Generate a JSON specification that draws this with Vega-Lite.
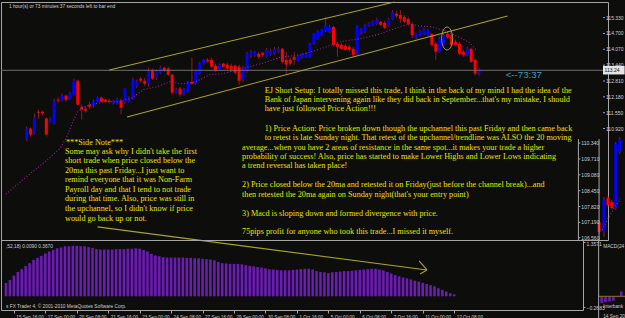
{
  "$schema": "https://vega.github.io/schema/vega-lite/v6.json",
  "background": "#0d0d0b",
  "padding": 0,
  "bounds": "flush",
  "spacing": 0,
  "config": {
    "view": {"stroke": "#a6a6a6", "strokeWidth": 1},
    "axis": {"grid": false, "domain": false, "labelFont": "Liberation Sans", "labelColor": "#cfcfcf", "tickColor": "#a6a6a6", "labelOverlap": false}
  },
  "datasets": {
    "candles": [
      {"t":0,"o":110.49,"h":111.00,"l":110.41,"c":110.92},
      {"t":1,"o":110.92,"h":110.96,"l":110.60,"c":110.68},
      {"t":2,"o":110.72,"h":111.52,"l":110.68,"c":111.36},
      {"t":3,"o":111.59,"h":111.67,"l":111.32,"c":111.55},
      {"t":4,"o":111.59,"h":111.63,"l":111.44,"c":111.52},
      {"t":5,"o":111.32,"h":111.36,"l":110.64,"c":110.68},
      {"t":6,"o":111.20,"h":111.36,"l":111.16,"c":111.32},
      {"t":7,"o":111.12,"h":112.11,"l":111.08,"c":112.03},
      {"t":8,"o":112.07,"h":112.15,"l":111.95,"c":112.03},
      {"t":9,"o":112.03,"h":112.31,"l":111.99,"c":112.23},
      {"t":10,"o":112.23,"h":112.27,"l":111.99,"c":112.07},
      {"t":11,"o":112.11,"h":112.39,"l":112.07,"c":112.35},
      {"t":12,"o":112.27,"h":112.90,"l":112.23,"c":112.82},
      {"t":13,"o":112.82,"h":112.86,"l":111.83,"c":111.87},
      {"t":14,"o":111.79,"h":111.87,"l":111.28,"c":111.67},
      {"t":15,"o":111.71,"h":111.79,"l":111.55,"c":111.63},
      {"t":16,"o":111.87,"h":111.99,"l":111.71,"c":111.79},
      {"t":17,"o":111.83,"h":112.07,"l":111.75,"c":111.99},
      {"t":18,"o":111.99,"h":112.19,"l":111.95,"c":112.15},
      {"t":19,"o":112.15,"h":112.19,"l":111.95,"c":111.99},
      {"t":20,"o":112.07,"h":112.11,"l":111.95,"c":111.99},
      {"t":21,"o":112.03,"h":112.11,"l":111.91,"c":111.99},
      {"t":22,"o":111.95,"h":112.07,"l":111.87,"c":112.03},
      {"t":23,"o":111.91,"h":112.15,"l":111.87,"c":112.07},
      {"t":24,"o":112.03,"h":112.11,"l":111.48,"c":111.75},
      {"t":25,"o":111.99,"h":112.54,"l":111.91,"c":112.51},
      {"t":26,"o":111.99,"h":112.19,"l":111.95,"c":112.11},
      {"t":27,"o":112.11,"h":112.94,"l":112.07,"c":112.86},
      {"t":28,"o":112.62,"h":112.86,"l":112.54,"c":112.78},
      {"t":29,"o":112.90,"h":112.98,"l":112.74,"c":112.82},
      {"t":30,"o":112.82,"h":112.94,"l":112.62,"c":112.70},
      {"t":31,"o":112.70,"h":113.34,"l":112.58,"c":113.22},
      {"t":32,"o":113.22,"h":113.30,"l":112.86,"c":112.90},
      {"t":33,"o":112.94,"h":113.26,"l":112.86,"c":113.22},
      {"t":34,"o":113.14,"h":113.42,"l":113.10,"c":113.34},
      {"t":35,"o":113.34,"h":113.38,"l":113.18,"c":113.22},
      {"t":36,"o":113.30,"h":113.38,"l":113.02,"c":113.06},
      {"t":37,"o":113.06,"h":113.10,"l":112.27,"c":112.35},
      {"t":38,"o":112.35,"h":112.54,"l":112.31,"c":112.47},
      {"t":39,"o":112.51,"h":112.58,"l":112.19,"c":112.27},
      {"t":40,"o":112.31,"h":112.54,"l":112.23,"c":112.51},
      {"t":41,"o":112.39,"h":112.82,"l":112.35,"c":112.78},
      {"t":42,"o":112.78,"h":113.73,"l":112.66,"c":112.70},
      {"t":43,"o":112.70,"h":113.22,"l":112.66,"c":113.18},
      {"t":44,"o":113.10,"h":113.57,"l":113.06,"c":113.53},
      {"t":45,"o":113.50,"h":113.69,"l":113.46,"c":113.65},
      {"t":46,"o":113.65,"h":113.73,"l":113.53,"c":113.61},
      {"t":47,"o":113.65,"h":113.73,"l":113.34,"c":113.38},
      {"t":48,"o":113.42,"h":113.50,"l":113.18,"c":113.22},
      {"t":49,"o":113.30,"h":113.50,"l":113.26,"c":113.46},
      {"t":50,"o":113.50,"h":113.53,"l":113.34,"c":113.38},
      {"t":51,"o":113.46,"h":113.53,"l":113.26,"c":113.30},
      {"t":52,"o":113.42,"h":113.50,"l":113.18,"c":113.26},
      {"t":53,"o":113.42,"h":113.46,"l":113.06,"c":113.14},
      {"t":54,"o":113.38,"h":113.46,"l":112.66,"c":112.82},
      {"t":55,"o":112.86,"h":113.42,"l":112.78,"c":113.34},
      {"t":56,"o":113.18,"h":113.97,"l":113.14,"c":113.89},
      {"t":57,"o":113.81,"h":114.05,"l":113.73,"c":113.97},
      {"t":58,"o":113.85,"h":114.01,"l":113.77,"c":113.97},
      {"t":59,"o":113.89,"h":113.97,"l":113.69,"c":113.77},
      {"t":60,"o":113.93,"h":113.97,"l":113.77,"c":113.85},
      {"t":61,"o":113.77,"h":114.13,"l":113.73,"c":114.05},
      {"t":62,"o":113.85,"h":114.09,"l":113.81,"c":114.01},
      {"t":63,"o":113.89,"h":114.17,"l":113.85,"c":114.09},
      {"t":64,"o":113.97,"h":114.17,"l":113.93,"c":114.09},
      {"t":65,"o":114.09,"h":114.13,"l":113.50,"c":113.57},
      {"t":66,"o":113.65,"h":113.97,"l":113.10,"c":113.46},
      {"t":67,"o":113.65,"h":113.73,"l":113.42,"c":113.50},
      {"t":68,"o":113.77,"h":113.97,"l":113.46,"c":113.65},
      {"t":69,"o":113.61,"h":113.85,"l":113.57,"c":113.81},
      {"t":70,"o":113.77,"h":113.93,"l":113.69,"c":113.89},
      {"t":71,"o":113.77,"h":113.97,"l":113.73,"c":113.89},
      {"t":72,"o":113.77,"h":114.33,"l":113.73,"c":114.29},
      {"t":73,"o":114.29,"h":114.72,"l":114.25,"c":114.68},
      {"t":74,"o":114.49,"h":114.84,"l":114.45,"c":114.80},
      {"t":75,"o":114.64,"h":114.88,"l":114.60,"c":114.84},
      {"t":76,"o":114.80,"h":115.36,"l":114.76,"c":115.00},
      {"t":77,"o":114.76,"h":115.04,"l":114.72,"c":114.96},
      {"t":78,"o":114.96,"h":115.00,"l":114.17,"c":114.25},
      {"t":79,"o":114.29,"h":114.37,"l":113.77,"c":114.17},
      {"t":80,"o":114.25,"h":114.33,"l":114.05,"c":114.09},
      {"t":81,"o":114.21,"h":114.29,"l":114.01,"c":114.05},
      {"t":82,"o":114.17,"h":114.25,"l":113.97,"c":114.05},
      {"t":83,"o":114.09,"h":114.17,"l":113.77,"c":113.85},
      {"t":84,"o":113.89,"h":115.04,"l":113.85,"c":115.00},
      {"t":85,"o":114.68,"h":114.92,"l":114.64,"c":114.88},
      {"t":86,"o":114.76,"h":115.08,"l":114.72,"c":115.04},
      {"t":87,"o":115.00,"h":115.16,"l":114.96,"c":115.12},
      {"t":88,"o":115.04,"h":115.24,"l":115.00,"c":115.20},
      {"t":89,"o":115.08,"h":115.32,"l":115.04,"c":115.24},
      {"t":90,"o":115.16,"h":115.20,"l":115.00,"c":115.04},
      {"t":91,"o":115.12,"h":115.20,"l":114.88,"c":114.92},
      {"t":92,"o":115.00,"h":115.32,"l":114.96,"c":115.28},
      {"t":93,"o":115.28,"h":115.63,"l":115.24,"c":115.55},
      {"t":94,"o":115.48,"h":115.59,"l":115.32,"c":115.40},
      {"t":95,"o":115.44,"h":115.63,"l":115.12,"c":115.28},
      {"t":96,"o":115.36,"h":115.44,"l":115.12,"c":115.16},
      {"t":97,"o":115.28,"h":115.36,"l":115.00,"c":115.08},
      {"t":98,"o":115.08,"h":115.16,"l":114.52,"c":114.64},
      {"t":99,"o":114.56,"h":114.72,"l":114.48,"c":114.68},
      {"t":100,"o":114.64,"h":114.84,"l":114.60,"c":114.80},
      {"t":101,"o":114.68,"h":114.92,"l":114.64,"c":114.88},
      {"t":102,"o":114.64,"h":114.88,"l":114.60,"c":114.84},
      {"t":103,"o":114.68,"h":114.72,"l":114.17,"c":114.25},
      {"t":104,"o":114.29,"h":114.37,"l":113.65,"c":113.97},
      {"t":105,"o":113.97,"h":114.56,"l":113.93,"c":114.49},
      {"t":106,"o":114.25,"h":114.72,"l":114.21,"c":114.64},
      {"t":107,"o":114.68,"h":114.76,"l":114.49,"c":114.56},
      {"t":108,"o":114.64,"h":114.68,"l":114.17,"c":114.25},
      {"t":109,"o":114.37,"h":114.45,"l":114.21,"c":114.25},
      {"t":110,"o":114.29,"h":114.37,"l":113.85,"c":113.89},
      {"t":111,"o":113.97,"h":114.05,"l":113.77,"c":113.85},
      {"t":112,"o":113.85,"h":114.17,"l":113.81,"c":114.09},
      {"t":113,"o":114.09,"h":114.13,"l":113.53,"c":113.57},
      {"t":114,"o":113.65,"h":113.69,"l":113.02,"c":113.10},
      {"t":115,"o":113.10,"h":113.34,"l":113.02,"c":113.26}
    ],
    "mini": [
      {"t":145.5,"o":107.20,"h":107.28,"l":106.73,"c":106.81},
      {"t":146.75,"o":106.81,"h":108.20,"l":106.61,"c":108.08},
      {"t":147.75,"o":108.16,"h":108.24,"l":107.80,"c":107.88},
      {"t":148.75,"o":108.00,"h":108.08,"l":107.68,"c":107.76},
      {"t":149.75,"o":107.76,"h":110.39,"l":107.68,"c":110.31},
      {"t":150.75,"o":109.99,"h":110.58,"l":109.91,"c":110.50}
    ],
    "ma": [
      {"t":-5.25,"p":108.31},{"t":-0.25,"p":108.98},{"t":4.75,"p":109.61},{"t":8.5,"p":110.13},
      {"t":10.25,"p":110.60},{"t":11.75,"p":111.20},{"t":13,"p":111.59},{"t":14.75,"p":111.79},
      {"t":16.5,"p":111.87},{"t":19.75,"p":111.99},{"t":23,"p":111.99},{"t":26.5,"p":112.11},
      {"t":29.75,"p":112.47},{"t":33,"p":112.58},{"t":36.5,"p":112.78},{"t":39.75,"p":112.70},
      {"t":43,"p":112.78},{"t":46.5,"p":113.06},{"t":49.75,"p":113.10},{"t":54.75,"p":113.30},
      {"t":59.75,"p":113.50},{"t":64.75,"p":113.77},{"t":69.75,"p":113.85},{"t":74.75,"p":114.09},
      {"t":79.75,"p":114.37},{"t":84.75,"p":114.49},{"t":89.75,"p":114.68},{"t":94.75,"p":114.96},
      {"t":97.25,"p":115.08},{"t":99.75,"p":115.00},{"t":103,"p":114.96},{"t":106.5,"p":114.80},
      {"t":109.75,"p":114.56},{"t":112.25,"p":114.37},{"t":114.25,"p":114.05}
    ],
    "minima": [
      {"t":146.25,"p":106.89},{"t":148.0,"p":107.40},{"t":149.5,"p":107.80},{"t":151.0,"p":108.13}
    ],
    "drawn": [
      {"t":21,"p":113.25,"t2":93.5,"p2":115.95},
      {"t":25.5,"p":111.38,"t2":122.25,"p2":115.39},
      {"t":18,"p":107.01,"t2":101.75,"p2":105.30},
      {"t":99.75,"p":105.66,"t2":101.75,"p2":105.30},
      {"t":100,"p":105.14,"t2":101.75,"p2":105.30}
    ],
    "priceLabels": [
      {"t":147.25,"tk":146.5,"tk2":147.0,"p":115.33,"s":"115.330"},
      {"t":147.25,"tk":146.5,"tk2":147.0,"p":114.70,"s":"114.700"},
      {"t":147.25,"tk":146.5,"tk2":147.0,"p":114.07,"s":"114.070"},
      {"t":147.25,"tk":146.5,"tk2":147.0,"p":113.44,"s":"113.440"},
      {"t":147.25,"tk":146.5,"tk2":147.0,"p":112.81,"s":"112.810"},
      {"t":147.25,"tk":146.5,"tk2":147.0,"p":112.18,"s":"112.180"},
      {"t":147.25,"tk":146.5,"tk2":147.0,"p":111.55,"s":"111.550"},
      {"t":147.25,"tk":146.5,"tk2":147.0,"p":110.92,"s":"110.920"},
      {"t":141.0,"tk":140.25,"tk2":140.75,"p":110.34,"s":"110.340"},
      {"t":141.0,"tk":140.25,"tk2":140.75,"p":109.71,"s":"109.710"},
      {"t":141.0,"tk":140.25,"tk2":140.75,"p":109.08,"s":"109.080"},
      {"t":141.0,"tk":140.25,"tk2":140.75,"p":108.45,"s":"108.450"},
      {"t":141.0,"tk":140.25,"tk2":140.75,"p":107.82,"s":"107.820"},
      {"t":141.0,"tk":140.25,"tk2":140.75,"p":107.19,"s":"107.190"},
      {"t":141.0,"tk":140.25,"tk2":140.75,"p":106.58,"s":"106.560"}
    ],
    "notes": [
      {"t":60.5,"p":112.41,"s":"EJ Short Setup:  I totally missed this trade, I think in the back of my mind I had the idea of the"},
      {"t":60.5,"p":112.04,"s":"Bank of Japan intervening again like they did back in September...that's my mistake, I should"},
      {"t":60.5,"p":111.69,"s":"have just followed Price Action!!!"},
      {"t":60.5,"p":110.91,"s":"1)  Price Action:  Price broken down though the upchannel this past Friday and then came back"},
      {"t":60.5,"p":110.54,"s":"to retest is late Sunday night.  That retest of the upchannel/trendline was ALSO the 20 moving"},
      {"t":54.75,"p":110.16,"s":"average...when you have 2 areas of resistance in the same spot...it makes your trade a higher"},
      {"t":54.75,"p":109.79,"s":"probability of success!  Also, price has started to make Lower Highs and Lower Lows indicating"},
      {"t":54.75,"p":109.42,"s":"a trend reversal has taken place!"},
      {"t":54.75,"p":108.69,"s":"2) Price closed below the 20ma and retested it on Friday(just before the channel break)...and"},
      {"t":54.75,"p":108.29,"s":"then retested the 20ma again on Sunday night(that's your entry point)"},
      {"t":54.75,"p":107.54,"s":"3) Macd is sloping down and formed divergence with price."},
      {"t":54.75,"p":106.81,"s":"75pips profit for anyone who took this trade...I missed it myself."},
      {"t":10,"p":110.35,"s":"***Side Note***"},
      {"t":9.75,"p":109.99,"s":"Some may ask why I didn't take the first"},
      {"t":9.75,"p":109.62,"s":"short trade when price closed below the"},
      {"t":9.75,"p":109.23,"s":"20ma this past Friday...I just want to"},
      {"t":9.75,"p":108.86,"s":"remind everyone that it was Non-Farm"},
      {"t":9.75,"p":108.48,"s":"Payroll day and that I tend to not trade"},
      {"t":9.75,"p":108.11,"s":"during that time.  Also, price was still in"},
      {"t":9.75,"p":107.72,"s":"the upchannel, so I didn't know if price"},
      {"t":9.75,"p":107.34,"s":"would go back up or not."}
    ],
    "macd": [
      {"u":-2,"v":0.33},{"u":-1,"v":0.41},{"u":0,"v":0.52},{"u":1,"v":0.61},{"u":2,"v":0.68},
      {"u":3,"v":0.76},{"u":4,"v":0.83},{"u":5,"v":0.91},{"u":6,"v":0.96},{"u":7,"v":1.01},
      {"u":8,"v":1.07},{"u":9,"v":1.12},{"u":10,"v":1.16},{"u":11,"v":1.20},{"u":12,"v":1.22},
      {"u":13,"v":1.25},{"u":14,"v":1.25},{"u":15,"v":1.26},{"u":16,"v":1.26},{"u":17,"v":1.25},
      {"u":18,"v":1.25},{"u":19,"v":1.23},{"u":20,"v":1.21},{"u":21,"v":1.18},{"u":22,"v":1.17},
      {"u":23,"v":1.17},{"u":24,"v":1.17},{"u":25,"v":1.17},{"u":26,"v":1.18},{"u":27,"v":1.18},
      {"u":28,"v":1.18},{"u":29,"v":1.19},{"u":30,"v":1.19},{"u":31,"v":1.20},{"u":32,"v":1.19},
      {"u":33,"v":1.16},{"u":34,"v":1.12},{"u":35,"v":1.06},{"u":36,"v":1.02},{"u":37,"v":1.00},
      {"u":38,"v":0.98},{"u":39,"v":0.97},{"u":40,"v":0.97},{"u":41,"v":0.97},{"u":42,"v":0.97},
      {"u":43,"v":0.97},{"u":44,"v":0.96},{"u":45,"v":0.96},{"u":46,"v":0.95},{"u":47,"v":0.95},
      {"u":48,"v":0.94},{"u":49,"v":0.93},{"u":50,"v":0.92},{"u":51,"v":0.90},{"u":52,"v":0.86},
      {"u":53,"v":0.83},{"u":54,"v":0.82},{"u":55,"v":0.81},{"u":56,"v":0.81},{"u":57,"v":0.81},
      {"u":58,"v":0.80},{"u":59,"v":0.78},{"u":60,"v":0.76},{"u":61,"v":0.75},{"u":62,"v":0.73},
      {"u":63,"v":0.72},{"u":64,"v":0.70},{"u":65,"v":0.68},{"u":66,"v":0.67},{"u":67,"v":0.66},
      {"u":68,"v":0.65},{"u":69,"v":0.65},{"u":70,"v":0.65},{"u":71,"v":0.66},{"u":72,"v":0.67},
      {"u":73,"v":0.68},{"u":74,"v":0.69},{"u":75,"v":0.69},{"u":76,"v":0.67},{"u":77,"v":0.63},
      {"u":78,"v":0.61},{"u":79,"v":0.60},{"u":80,"v":0.58},{"u":81,"v":0.60},{"u":82,"v":0.61},
      {"u":83,"v":0.62},{"u":84,"v":0.63},{"u":85,"v":0.63},{"u":86,"v":0.64},{"u":87,"v":0.65},
      {"u":88,"v":0.66},{"u":89,"v":0.67},{"u":90,"v":0.68},{"u":91,"v":0.69},{"u":92,"v":0.69},
      {"u":93,"v":0.67},{"u":94,"v":0.65},{"u":95,"v":0.61},{"u":96,"v":0.57},{"u":97,"v":0.53},
      {"u":98,"v":0.50},{"u":99,"v":0.47},{"u":100,"v":0.45},{"u":101,"v":0.42},{"u":102,"v":0.39},
      {"u":103,"v":0.37},{"u":104,"v":0.34},{"u":105,"v":0.31},{"u":106,"v":0.28},{"u":107,"v":0.25},
      {"u":108,"v":0.20},{"u":109,"v":0.16},{"u":110,"v":0.12},{"u":111,"v":0.08},{"u":112,"v":0.05}
    ],
    "minimacd": [
      {"u":149.5,"v":-0.17},{"u":150.5,"v":-0.15},{"u":151.5,"v":-0.13},{"u":152.5,"v":-0.11},
      {"u":153.5,"v":-0.02},{"u":154.5,"v":0.12}
    ]
  },
  "vconcat": [
    {
      "width": 607,
      "height": 238,
      "layer": [
        {
          "data": {"name": "candles"},
          "mark": {"type": "rule", "color": "#8e1c1c", "strokeWidth": 1},
          "encoding": {
            "x": {"field": "t", "type": "quantitative", "scale": {"domain": [-5.25, 146.5], "nice": false, "zero": false}, "axis": null},
            "y": {"field": "l", "type": "quantitative", "scale": {"domain": [106.49, 115.95], "nice": false, "zero": false}, "axis": null},
            "y2": {"field": "h"}
          }
        },
        {
          "data": {"name": "candles"},
          "mark": {"type": "bar", "width": 3, "orient": "vertical"},
          "encoding": {
            "x": {"field": "t", "type": "quantitative", "axis": null},
            "y": {"field": "o", "type": "quantitative", "axis": null},
            "y2": {"field": "c"},
            "color": {"condition": {"test": "datum.c < datum.o", "value": "#ff0000"}, "value": "#0000ff"}
          }
        },
        {
          "data": {"name": "mini"},
          "mark": {"type": "rule", "color": "#8e1c1c", "strokeWidth": 1},
          "encoding": {
            "x": {"field": "t", "type": "quantitative", "axis": null},
            "y": {"field": "l", "type": "quantitative", "axis": null},
            "y2": {"field": "h"}
          }
        },
        {
          "data": {"name": "mini"},
          "mark": {"type": "bar", "width": 3, "orient": "vertical"},
          "encoding": {
            "x": {"field": "t", "type": "quantitative", "axis": null},
            "y": {"field": "o", "type": "quantitative", "axis": null},
            "y2": {"field": "c"},
            "color": {"condition": {"test": "datum.c < datum.o", "value": "#ff0000"}, "value": "#0000ff"}
          }
        },
        {
          "data": {"name": "ma"},
          "mark": {"type": "line", "color": "#a21fa2", "strokeWidth": 1.1, "strokeDash": [1, 2]},
          "encoding": {
            "x": {"field": "t", "type": "quantitative", "axis": null},
            "y": {"field": "p", "type": "quantitative", "axis": null}
          }
        },
        {
          "data": {"name": "minima"},
          "mark": {"type": "line", "color": "#a21fa2", "strokeWidth": 1.1, "strokeDash": [1, 2]},
          "encoding": {
            "x": {"field": "t", "type": "quantitative", "axis": null},
            "y": {"field": "p", "type": "quantitative", "axis": null}
          }
        },
        {
          "data": {"values": [{"p": 113.235}]},
          "mark": {"type": "rule", "color": "#6e6e6e", "strokeWidth": 1},
          "encoding": {"y": {"field": "p", "type": "quantitative", "axis": null}}
        },
        {
          "data": {"name": "drawn"},
          "mark": {"type": "rule", "color": "#aaa22a", "strokeWidth": 1.1},
          "encoding": {
            "x": {"field": "t", "type": "quantitative", "axis": null},
            "y": {"field": "p", "type": "quantitative", "axis": null},
            "x2": {"field": "t2"},
            "y2": {"field": "p2"}
          }
        },
        {
          "data": {"values": [{"t": 140.25, "p": 110.50, "p2": 106.49}, {"t": 145.5, "p": 110.50, "p2": 106.49}]},
          "mark": {"type": "rule", "color": "#a6a6a6", "strokeWidth": 1},
          "encoding": {
            "x": {"field": "t", "type": "quantitative", "axis": null},
            "y": {"field": "p", "type": "quantitative", "axis": null},
            "y2": {"field": "p2"}
          }
        },
        {
          "data": {"name": "priceLabels"},
          "mark": {"type": "rule", "color": "#a6a6a6", "strokeWidth": 1},
          "encoding": {
            "x": {"field": "tk", "type": "quantitative", "axis": null},
            "x2": {"field": "tk2"},
            "y": {"field": "p", "type": "quantitative", "axis": null}
          }
        },
        {
          "data": {"name": "priceLabels"},
          "mark": {"type": "text", "align": "left", "baseline": "middle", "font": "Liberation Sans", "fontSize": 5, "color": "#cfcfcf"},
          "encoding": {
            "x": {"field": "t", "type": "quantitative", "axis": null},
            "y": {"field": "p", "type": "quantitative", "axis": null},
            "text": {"field": "s"}
          }
        },
        {
          "data": {"values": [{"t": 106.875, "p": 114.50}]},
          "mark": {"type": "point", "filled": false, "shape": "M -0.48,0 A 0.48,1 0 1,1 0.48,0 A 0.48,1 0 1,1 -0.48,0 Z", "size": 529, "stroke": "#9c9640", "strokeWidth": 1, "opacity": 1},
          "encoding": {
            "x": {"field": "t", "type": "quantitative", "axis": null},
            "y": {"field": "p", "type": "quantitative", "axis": null}
          }
        },
        {
          "data": {"name": "notes"},
          "mark": {"type": "text", "align": "left", "baseline": "middle", "font": "Liberation Serif", "fontSize": 8.2, "color": "#e8e200"},
          "encoding": {
            "x": {"field": "t", "type": "quantitative", "axis": null},
            "y": {"field": "p", "type": "quantitative", "axis": null},
            "text": {"field": "s"}
          }
        },
        {
          "data": {"values": [{"t": -4.5, "p": 115.77, "s": "1 hour(s) or 73 minutes 37 seconds left to bar end"}]},
          "mark": {"type": "text", "align": "left", "baseline": "middle", "font": "Liberation Sans", "fontSize": 4.8, "color": "#d4d4d4"},
          "encoding": {
            "x": {"field": "t", "type": "quantitative", "axis": null},
            "y": {"field": "p", "type": "quantitative", "axis": null},
            "text": {"field": "s"}
          }
        },
        {
          "data": {"values": [{"t": 121.75, "p": 113.05, "s": "<--73:37"}]},
          "mark": {"type": "text", "align": "left", "baseline": "middle", "font": "Liberation Sans", "fontSize": 9.7, "color": "#3c9dc4"},
          "encoding": {
            "x": {"field": "t", "type": "quantitative", "axis": null},
            "y": {"field": "p", "type": "quantitative", "axis": null},
            "text": {"field": "s"}
          }
        },
        {
          "data": {"values": [{"t": 146.5, "t2": 152, "p": 113.41, "p2": 113.07}]},
          "mark": {"type": "rect", "color": "#e4e4e4"},
          "encoding": {
            "x": {"field": "t", "type": "quantitative", "axis": null},
            "x2": {"field": "t2"},
            "y": {"field": "p", "type": "quantitative", "axis": null},
            "y2": {"field": "p2"}
          }
        },
        {
          "data": {"values": [{"t": 146.9, "p": 113.237, "s": "113.24"}]},
          "mark": {"type": "text", "align": "left", "baseline": "middle", "font": "Liberation Sans", "fontSize": 5, "color": "#111111"},
          "encoding": {
            "x": {"field": "t", "type": "quantitative", "axis": null},
            "y": {"field": "p", "type": "quantitative", "axis": null},
            "text": {"field": "s"}
          }
        }
      ]
    },
    {
      "width": 582,
      "height": 70,
      "layer": [
        {
          "data": {"name": "macd"},
          "mark": {"type": "bar", "width": 2.6, "color": "#6a1cb4", "orient": "vertical"},
          "encoding": {
            "x": {"field": "u", "type": "quantitative", "scale": {"domain": [-2, 143.5], "nice": false, "zero": false},
              "axis": {"title": null, "values": [0, 8, 16, 24, 32, 40, 48, 56, 64, 72, 80, 88, 96, 104, 112],
                "labelExpr": "['15 Sep 16:00','17 Sep 00:00','20 Sep 08:00','21 Sep 16:00','23 Sep 00:00','24 Sep 08:00','27 Sep 16:00','29 Sep 00:00','30 Sep 08:00','1 Oct 16:00','5 Oct 00:00','6 Oct 08:00','7 Oct 16:00','11 Oct 00:00','12 Oct 08:00'][round(datum.value / 8)]",
                "labelAlign": "left", "labelOffset": 2, "labelFontSize": 4.6, "tickSize": 3, "labelPadding": 1, "labelOverlap": false}},
            "y": {"field": "v", "type": "quantitative", "scale": {"domain": [-0.342, 1.407], "nice": false, "zero": false},
              "axis": {"orient": "right", "title": null, "values": [1.3571, 0, -0.2683], "labelExpr": "datum.value == 0 ? '0.00' : format(datum.value, '.4f')",
                "labelBaseline": {"condition": {"test": "datum.value > 1", "value": "top"}, "value": "middle"},
                "tickSize": 2, "labelPadding": 1, "labelFontSize": 5, "labelOverlap": false}},
            "y2": {"datum": 0}
          }
        },
        {
          "data": {"name": "minimacd"},
          "mark": {"type": "bar", "width": 2.6, "color": "#6a1cb4", "orient": "vertical"},
          "encoding": {
            "x": {"field": "u", "type": "quantitative"},
            "y": {"field": "v", "type": "quantitative"},
            "y2": {"datum": 0}
          }
        },
        {
          "mark": {"type": "rule", "color": "#8a7428", "strokeWidth": 1},
          "encoding": {"y": {"datum": 0}}
        },
        {
          "data": {"values": [{"u": 148.75, "v": 0, "u2": 156}]},
          "mark": {"type": "rule", "color": "#8a7428", "strokeWidth": 1},
          "encoding": {
            "x": {"field": "u", "type": "quantitative"},
            "x2": {"field": "u2"},
            "y": {"field": "v", "type": "quantitative"}
          }
        },
        {
          "data": {"values": [{"u": 148.75, "v": 1.407, "v2": -0.6}]},
          "mark": {"type": "rule", "color": "#a6a6a6", "strokeWidth": 1},
          "encoding": {
            "x": {"field": "u", "type": "quantitative"},
            "y": {"field": "v", "type": "quantitative"},
            "y2": {"field": "v2"}
          }
        },
        {
          "data": {"values": [
            {"u": -2, "v": 1.23, "s": ",52,18) 0.0090 0.3670"},
            {"u": -2, "v": -0.27, "s": "s FX Trader 4, \u00a9 2001-2010 MetaQuotes Software Corp."},
            {"u": 149.9, "v": 1.23, "s": "MACD(24"},
            {"u": 149.9, "v": -0.27, "s": "Interbank"},
            {"u": 149.9, "v": -0.52, "s": "14 Sep 201"}
          ]},
          "mark": {"type": "text", "align": "left", "baseline": "middle", "font": "Liberation Sans", "fontSize": 4.8, "color": "#cfcfcf"},
          "encoding": {
            "x": {"field": "u", "type": "quantitative"},
            "y": {"field": "v", "type": "quantitative"},
            "text": {"field": "s"}
          }
        }
      ]
    }
  ]
}
